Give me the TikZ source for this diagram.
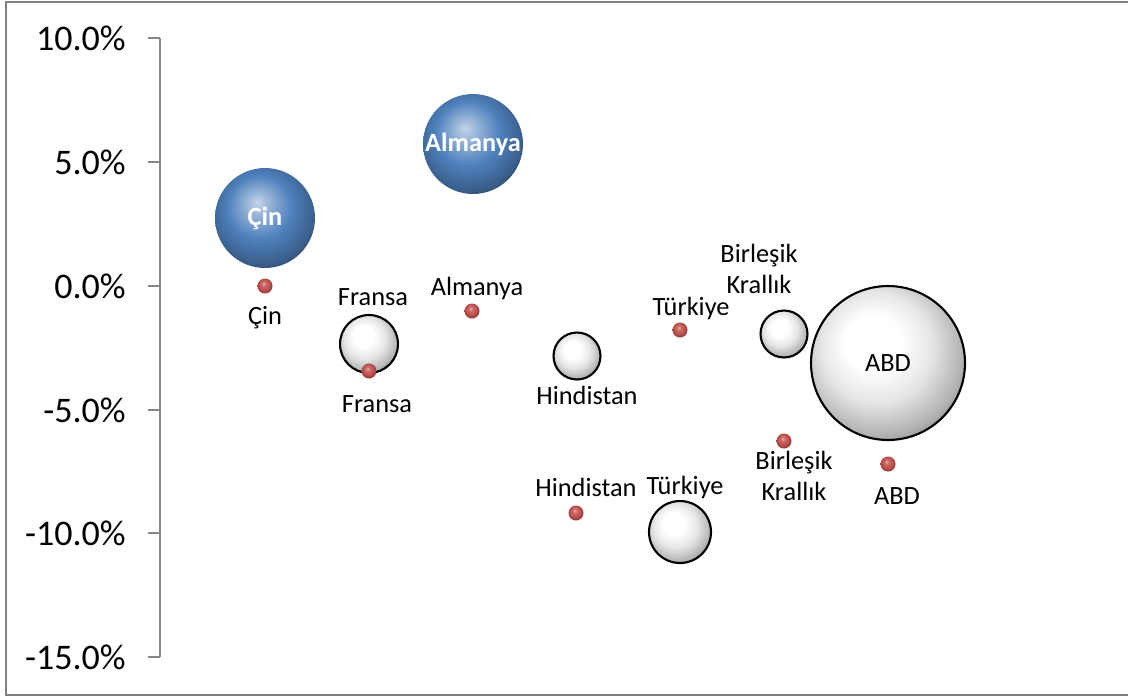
\documentclass[tikz,border=0pt]{standalone}
\usepackage{fontspec}
\setmainfont{Carlito}
\usepackage{xcolor}
\usepackage{tikz}
\usetikzlibrary{shapes}
\usetikzlibrary{positioning}
\definecolor{bubbleblue}{RGB}{79,129,189}
\definecolor{dotred}{RGB}{192,80,77}
\definecolor{axisgray}{RGB}{134,134,134}
\definecolor{framegray}{RGB}{128,128,128}
\pgfdeclareradialshading{bluesphere}{\pgfpoint{-4bp}{8bp}}{%
  color(0bp)=(bubbleblue!35!white); color(6bp)=(bubbleblue!60!white);
  color(16bp)=(bubbleblue); color(26bp)=(bubbleblue!75!black);
  color(36bp)=(bubbleblue!40!black); color(50bp)=(black)}
\pgfdeclareradialshading{whitesphere}{\pgfpoint{-6bp}{8bp}}{%
  color(0bp)=(white); color(9bp)=(white);
  color(18bp)=(black!10); color(27bp)=(black!30); color(35bp)=(black!60);
  color(50bp)=(black)}
\pgfdeclareradialshading{redsphere}{\pgfpoint{-5bp}{8bp}}{%
  color(0bp)=(dotred!40!white); color(7bp)=(dotred!85!white);
  color(18bp)=(dotred); color(30bp)=(dotred!65!black); color(50bp)=(black)}
\tikzset{%
  every bubble/.style={
    circle,
    inner sep=0pt
  },
  blue bubble/.style={
    every bubble,
    shading=bluesphere,
    text=white,
    font=\fontsize{15}{18}\selectfont\bfseries
  },
  white bubble/.style={
    every bubble,
    draw=black,
    line width=1.2pt,
    shading=whitesphere,
    font=\fontsize{15}{18}\selectfont
  },
  red dot/.style={
    circle,
    inner sep=0pt,
    minimum size=0.3cm,
    shading=redsphere
  },
  country/.style={
    align=center,
    inner sep=0pt,
    font=\fontsize{15}{18}\selectfont
  },
  tick label/.style={
    anchor=east,
    inner sep=0pt,
    font=\fontsize{20.5}{24}\selectfont
  },
}

\begin{document}
\begin{tikzpicture}[x=0.02cm,y=-0.02cm]
  \useasboundingbox (0,0) rectangle (1128,697);
  \draw [framegray,line width=1.2pt] (6,2) rectangle (1140,695);

  % axis
  \draw [axisgray,line width=0.8pt] (160,38) -- (160,657);
  \foreach \val/\yy [count=\i] in {10.0/38,5.0/162,0.0/286,-5.0/410,-10.0/533,-15.0/657} {
    \draw [axisgray,line width=0.8pt] (148,\yy) -- (160,\yy);
    \node (tick\i) [tick label] at (126,\yy) {\val\%};
  }

  % blue bubbles
  \node (cin) [blue bubble,minimum size=2cm] at (265,218) {Çin};
  \node (alm) [blue bubble,minimum size=2cm] at (473,144) {Almanya};

  % white bubbles
  \node (fra) [white bubble,minimum size=1.16cm] at (369,344) {};
  \node (hin) [white bubble,minimum size=0.94cm] at (577,356) {};
  \node (tur) [white bubble,minimum size=1.24cm] at (680,532) {};
  \node (bk)  [white bubble,minimum size=0.94cm] at (784,334) {};
  \node (abd) [white bubble,minimum size=3.08cm] at (888,363) {ABD};

  % red dots
  \node (cinDot) [red dot] at (265,286) {};
  \node (almDot) [red dot] at (472,311) {};
  \node (fraDot) [red dot] at (369,371) {};
  \node (hinDot) [red dot] at (576,513) {};
  \node (turDot) [red dot] at (680,330) {};
  \node (bkDot)  [red dot] at (784,441) {};
  \node (abdDot) [red dot] at (888,464) {};

  % labels
  \node (fraLab)    [country] at (373,297) {Fransa};
  \node (hinLab)    [country] at (587,395) {Hindistan};
  \node (turLab)    [country] at (685,487) {Türkiye};
  \node (bkLab)     [country] at (759,269) {Birleşik\\Krallık};
  \node (cinDotLab) [country] at (265,318) {Çin};
  \node (almDotLab) [country] at (477,288) {Almanya};
  \node (fraDotLab) [country] at (377,404) {Fransa};
  \node (hinDotLab) [country] at (586,487) {Hindistan};
  \node (turDotLab) [country] at (691,308) {Türkiye};
  \node (bkDotLab)  [country] at (794,476) {Birleşik\\Krallık};
  \node (abdDotLab) [country] at (897,496) {ABD};
\end{tikzpicture}
\end{document}
